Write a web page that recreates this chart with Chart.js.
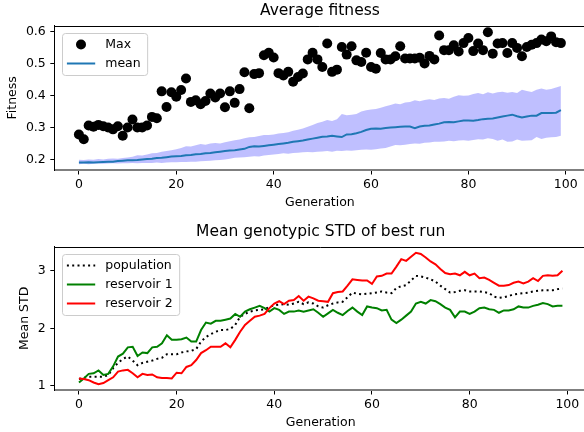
<!DOCTYPE html>
<html>
<head>
<meta charset="utf-8">
<script src="https://cdn.jsdelivr.net/npm/chart.js@4.4.1/dist/chart.umd.min.js"></script>
<style>
  html, body { margin: 0; padding: 0; background: #fff; overflow: hidden; }
  #wrap { position: relative; width: 590px; height: 432px; }
  canvas { position: absolute; left: 0; }
</style>
</head>
<body>
<div id="wrap">
  <canvas id="fitnessChart" width="590" height="216" style="top:0"></canvas>
  <canvas id="stdChart" width="590" height="216" style="top:216px"></canvas>
</div>
<script>
// values, one per generation (0..99)
const maxFitness = [
  0.278, 0.263, 0.306, 0.302, 0.308, 0.304, 0.300, 0.294, 0.304, 0.274,
  0.300, 0.325, 0.300, 0.300, 0.306, 0.333, 0.329, 0.413, 0.364, 0.410,
  0.396, 0.417, 0.453, 0.380, 0.385, 0.373, 0.383, 0.406, 0.394, 0.406,
  0.363, 0.413, 0.377, 0.420, 0.473, 0.360, 0.467, 0.470, 0.526, 0.534,
  0.519, 0.470, 0.463, 0.474, 0.443, 0.458, 0.469, 0.513, 0.534, 0.513,
  0.489, 0.563, 0.474, 0.481, 0.552, 0.528, 0.554, 0.510, 0.505, 0.534,
  0.489, 0.484, 0.533, 0.513, 0.513, 0.523, 0.554, 0.516, 0.516, 0.516,
  0.518, 0.500, 0.524, 0.513, 0.588, 0.542, 0.542, 0.557, 0.538, 0.564,
  0.580, 0.539, 0.563, 0.542, 0.598, 0.531, 0.563, 0.564, 0.533, 0.564,
  0.549, 0.523, 0.552, 0.559, 0.564, 0.575, 0.570, 0.585, 0.567, 0.564
];
const meanFitness = [
  0.190, 0.190, 0.191, 0.190, 0.191, 0.192, 0.193, 0.193, 0.195, 0.196,
  0.197, 0.197, 0.198, 0.200, 0.201, 0.202, 0.204, 0.205, 0.207, 0.209,
  0.210, 0.211, 0.213, 0.214, 0.216, 0.217, 0.219, 0.220, 0.222, 0.224,
  0.226, 0.228, 0.229, 0.231, 0.233, 0.239, 0.241, 0.240, 0.242, 0.244,
  0.246, 0.248, 0.250, 0.252, 0.255, 0.257, 0.259, 0.262, 0.265, 0.268,
  0.271, 0.272, 0.274, 0.272, 0.270, 0.278, 0.279, 0.282, 0.286, 0.292,
  0.296, 0.297, 0.296, 0.298, 0.300, 0.301, 0.302, 0.303, 0.303, 0.298,
  0.303, 0.305, 0.306, 0.309, 0.312, 0.316, 0.317, 0.316, 0.319, 0.322,
  0.322, 0.321, 0.323, 0.326, 0.327, 0.328, 0.331, 0.334, 0.337, 0.340,
  0.335, 0.331, 0.334, 0.337, 0.337, 0.345, 0.345, 0.345, 0.346, 0.354
];
const upperFitness = [
  0.199, 0.198, 0.200, 0.199, 0.201, 0.200, 0.202, 0.203, 0.202, 0.204,
  0.206, 0.208, 0.213, 0.212, 0.215, 0.219, 0.220, 0.224, 0.226, 0.229,
  0.232, 0.236, 0.241, 0.240, 0.244, 0.248, 0.246, 0.250, 0.251, 0.250,
  0.254, 0.257, 0.260, 0.262, 0.266, 0.269, 0.270, 0.273, 0.276, 0.276,
  0.278, 0.281, 0.283, 0.285, 0.290, 0.293, 0.297, 0.302, 0.308, 0.314,
  0.318, 0.323, 0.320, 0.326, 0.342, 0.338, 0.340, 0.342, 0.350, 0.354,
  0.356, 0.358, 0.362, 0.366, 0.370, 0.375, 0.373, 0.378, 0.380, 0.385,
  0.382, 0.386, 0.388, 0.386, 0.391, 0.392, 0.390, 0.396, 0.401, 0.399,
  0.400, 0.405, 0.408, 0.404, 0.410, 0.406, 0.410, 0.412, 0.409, 0.411,
  0.408, 0.418, 0.414, 0.411, 0.418, 0.422, 0.418, 0.420, 0.425, 0.430
];
const lowerFitness = [
  0.185, 0.186, 0.185, 0.186, 0.187, 0.186, 0.187, 0.188, 0.187, 0.188,
  0.188, 0.189, 0.188, 0.189, 0.189, 0.189, 0.190, 0.189, 0.190, 0.191,
  0.191, 0.192, 0.192, 0.193, 0.193, 0.194, 0.195, 0.196, 0.197, 0.198,
  0.200, 0.202, 0.205, 0.206, 0.207, 0.208, 0.210, 0.209, 0.212, 0.214,
  0.215, 0.217, 0.219, 0.218, 0.220, 0.221, 0.222, 0.223, 0.222, 0.224,
  0.225, 0.226, 0.224, 0.227, 0.226, 0.228, 0.227, 0.229, 0.230, 0.231,
  0.230, 0.232, 0.234, 0.236, 0.240, 0.245, 0.244, 0.246, 0.248, 0.250,
  0.249, 0.252, 0.253, 0.255, 0.255, 0.256, 0.258, 0.257, 0.259, 0.260,
  0.258, 0.261, 0.263, 0.262, 0.266, 0.264, 0.258, 0.262, 0.255, 0.256,
  0.262, 0.258, 0.259, 0.260, 0.270, 0.264, 0.268, 0.269, 0.270, 0.274
];
const populationStd = [
  1.12, 1.14, 1.16, 1.16, 1.16, 1.16, 1.19, 1.31, 1.40, 1.47,
  1.51, 1.44, 1.36, 1.40, 1.42, 1.44, 1.47, 1.49, 1.55, 1.55,
  1.55, 1.58, 1.60, 1.61, 1.64, 1.77, 1.85, 1.90, 1.94, 1.97,
  1.97, 1.99, 2.06, 2.20, 2.25, 2.29, 2.31, 2.32, 2.33, 2.37,
  2.40, 2.41, 2.42, 2.41, 2.43, 2.46, 2.42, 2.45, 2.43, 2.38,
  2.36, 2.40, 2.43, 2.45, 2.46, 2.54, 2.62, 2.60, 2.59, 2.60,
  2.61, 2.62, 2.64, 2.62, 2.61, 2.70, 2.73, 2.75, 2.83, 2.91,
  2.90, 2.88, 2.85, 2.81, 2.74, 2.68, 2.62, 2.63, 2.65, 2.66,
  2.64, 2.64, 2.64, 2.63, 2.61, 2.55, 2.53, 2.54, 2.56, 2.59,
  2.60, 2.61, 2.62, 2.64, 2.65, 2.66, 2.66, 2.66, 2.68, 2.69
];
const reservoir1Std = [
  1.06, 1.13, 1.21, 1.22, 1.27, 1.19, 1.21, 1.34, 1.51, 1.56,
  1.67, 1.68, 1.52, 1.58, 1.57, 1.67, 1.68, 1.74, 1.88, 1.80,
  1.80, 1.81, 1.84, 1.77, 1.77, 1.97, 2.10, 2.08, 2.13, 2.13,
  2.15, 2.17, 2.25, 2.20, 2.29, 2.33, 2.36, 2.39, 2.35, 2.29,
  2.35, 2.32, 2.25, 2.29, 2.29, 2.31, 2.29, 2.31, 2.33, 2.27,
  2.20, 2.26, 2.32, 2.27, 2.23, 2.30, 2.36, 2.29, 2.23, 2.38,
  2.36, 2.35, 2.31, 2.32, 2.15, 2.09, 2.15, 2.22, 2.29, 2.43,
  2.46, 2.43, 2.49, 2.47, 2.42, 2.36, 2.32, 2.19, 2.29, 2.29,
  2.25, 2.29, 2.35, 2.36, 2.33, 2.32, 2.27, 2.31, 2.31, 2.33,
  2.38, 2.36, 2.36, 2.39, 2.41, 2.44, 2.42, 2.38, 2.39, 2.39
];
const reservoir2Std = [
  1.13, 1.12, 1.10, 1.06, 1.03, 1.05, 1.10, 1.15, 1.25, 1.27,
  1.28, 1.22, 1.15, 1.21, 1.19, 1.20, 1.15, 1.14, 1.14, 1.13,
  1.23, 1.22, 1.33, 1.36, 1.45, 1.57, 1.62, 1.68, 1.68, 1.68,
  1.74, 1.67, 1.80, 1.94, 2.06, 2.13, 2.20, 2.22, 2.25, 2.35,
  2.43, 2.47, 2.42, 2.48, 2.49, 2.56, 2.48, 2.55, 2.52, 2.48,
  2.47, 2.46, 2.61, 2.63, 2.64, 2.74, 2.85, 2.84, 2.83, 2.83,
  2.77, 2.90, 2.91, 2.95, 2.95, 3.07, 3.20, 3.17, 3.24, 3.31,
  3.29, 3.23, 3.16, 3.11, 3.03, 2.96, 2.94, 2.95, 2.92, 2.98,
  2.92, 2.95, 2.87, 2.88, 2.84, 2.79, 2.74, 2.74, 2.75, 2.79,
  2.81, 2.78, 2.81, 2.87, 2.82, 2.91, 2.92, 2.91, 2.92, 3.00
];
const generationTicks = [0, 20, 40, 60, 80, 100];
const fitnessTicks = [0.2, 0.3, 0.4, 0.5, 0.6];
const stdTicks = [1, 2, 3];

const FONT = "'DejaVu Sans', sans-serif";
Chart.defaults.font.family = FONT;
Chart.defaults.font.size = 12.5;
Chart.defaults.color = "#000";

function toPoints(values) {
  return values.map((value, generation) => ({ x: generation, y: value }));
}

function fixedTicks(values) {
  return (scale) => { scale.ticks = values.map((value) => ({ value })); };
}

// matplotlib-like frame: top spine, title over the axes, boxed legend
const axesDecor = {
  id: "axesDecor",
  afterDraw(chart, args, opts) {
    const { ctx, chartArea: area } = chart;
    ctx.save();
    ctx.strokeStyle = "#000";
    ctx.lineWidth = 1;
    ctx.beginPath();
    ctx.moveTo(area.left, Math.round(area.top) + 0.5);
    ctx.lineTo(area.right, Math.round(area.top) + 0.5);
    ctx.stroke();

    ctx.fillStyle = "#000";
    ctx.font = "15.5px " + FONT;
    ctx.textAlign = "center";
    ctx.textBaseline = "alphabetic";
    ctx.fillText(opts.title, (area.left + area.right) / 2, area.top - 10.5);

    const entries = chart.data.datasets.filter((ds) => ds.label);
    ctx.font = "12.5px " + FONT;
    const textWidth = Math.max(...entries.map((ds) => ctx.measureText(ds.label).width));
    const boxX = Math.round(area.left + 7.5) + 0.5;
    const boxY = Math.round(area.top + 6.8) + 0.5;
    const boxW = 42.7 + textWidth + 7;
    const boxH = 23 + (entries.length - 1) * 19;
    ctx.beginPath();
    if (ctx.roundRect) ctx.roundRect(boxX, boxY, boxW, boxH, 3);
    else ctx.rect(boxX, boxY, boxW, boxH);
    ctx.fillStyle = "rgba(255,255,255,0.8)";
    ctx.fill();
    ctx.strokeStyle = "#cccccc";
    ctx.stroke();

    entries.forEach((ds, i) => {
      const rowY = boxY + 11 + i * 19;
      if (ds.showLine === false) {
        ctx.beginPath();
        ctx.arc(boxX + 18.5, rowY, ds.pointRadius, 0, Math.PI * 2);
        ctx.fillStyle = ds.pointBackgroundColor;
        ctx.fill();
      } else {
        ctx.beginPath();
        ctx.setLineDash(ds.borderDash || []);
        ctx.strokeStyle = ds.borderColor;
        ctx.lineWidth = ds.borderWidth;
        ctx.moveTo(boxX + 4.4, rowY);
        ctx.lineTo(boxX + 32.7, rowY);
        ctx.stroke();
        ctx.setLineDash([]);
      }
      ctx.fillStyle = "#000";
      ctx.textAlign = "left";
      ctx.textBaseline = "middle";
      ctx.fillText(ds.label, boxX + 42.7, rowY);
    });
    ctx.restore();
  }
};

function buildScales(cfg) {
  return {
    x: {
      type: "linear",
      min: -4.95,
      max: 103.95,
      afterFit: (scale) => { scale.height = cfg.xHeight; },
      afterBuildTicks: fixedTicks(generationTicks),
      grid: { drawOnChartArea: false, tickLength: 4.5, color: "#000" },
      border: { color: "#7f7f7f", width: 2 },
      ticks: { padding: 3, maxRotation: 0, color: "#000" },
      title: { display: true, text: "Generation", color: "#000", padding: { top: 0, bottom: cfg.xTitlePad } }
    },
    y: {
      min: cfg.yMin,
      max: cfg.yMax,
      afterFit: (scale) => { scale.width = 54.8; },
      afterBuildTicks: fixedTicks(cfg.yTicks),
      grid: { drawOnChartArea: false, tickLength: 4.5, color: "#000" },
      border: { color: "#000", width: 1 },
      ticks: { padding: 4.5, color: "#000", callback: cfg.yFormat },
      title: { display: true, text: cfg.yTitle, color: "#000", padding: { top: cfg.yTitlePad, bottom: 0 } }
    }
  };
}

function baseOptions(cfg) {
  return {
    responsive: false,
    animation: false,
    layout: { padding: { top: cfg.padTop, right: 3.4, left: 0, bottom: 0 } },
    plugins: {
      legend: { display: false },
      tooltip: { enabled: false },
      axesDecor: { title: cfg.title }
    },
    scales: buildScales(cfg)
  };
}

new Chart(document.getElementById("fitnessChart"), {
  type: "line",
  data: {
    datasets: [
      { label: "Max", data: toPoints(maxFitness), showLine: false, pointRadius: 5,
        pointBackgroundColor: "#000", pointBorderWidth: 0, pointHoverRadius: 5 },
      { label: "mean", data: toPoints(meanFitness), borderColor: "#1f77b4", borderWidth: 2, pointRadius: 0 },
      { data: toPoints(lowerFitness), borderColor: "transparent", borderWidth: 0, pointRadius: 0, fill: false },
      { data: toPoints(upperFitness), borderColor: "transparent", borderWidth: 0, pointRadius: 0,
        fill: "-1", backgroundColor: "rgba(0,0,255,0.25)" }
    ]
  },
  options: baseOptions({
    title: "Average fitness", padTop: 25.7, xHeight: 46, xTitlePad: 5.8,
    yMin: 0.1668, yMax: 0.6185, yTicks: fitnessTicks, yTitle: "Fitness", yTitlePad: 5.2,
    yFormat: (value) => value.toFixed(1)
  }),
  plugins: [axesDecor]
});

new Chart(document.getElementById("stdChart"), {
  type: "line",
  data: {
    datasets: [
      { label: "population", data: toPoints(populationStd), borderColor: "#000", borderWidth: 2,
        borderDash: [2, 3.3], pointRadius: 0, order: 2 },
      { label: "reservoir 1", data: toPoints(reservoir1Std), borderColor: "#008000", borderWidth: 2,
        pointRadius: 0, order: 1 },
      { label: "reservoir 2", data: toPoints(reservoir2Std), borderColor: "#ff0000", borderWidth: 2,
        pointRadius: 0, order: 0 }
    ]
  },
  options: baseOptions({
    title: "Mean genotypic STD of best run", padTop: 30.7, xHeight: 42, xTitlePad: 1.5,
    yMin: 0.93, yMax: 3.416, yTicks: stdTicks, yTitle: "Mean STD", yTitlePad: 17.5,
    yFormat: (value) => String(value)
  }),
  plugins: [axesDecor]
});
</script>
</body>
</html>
